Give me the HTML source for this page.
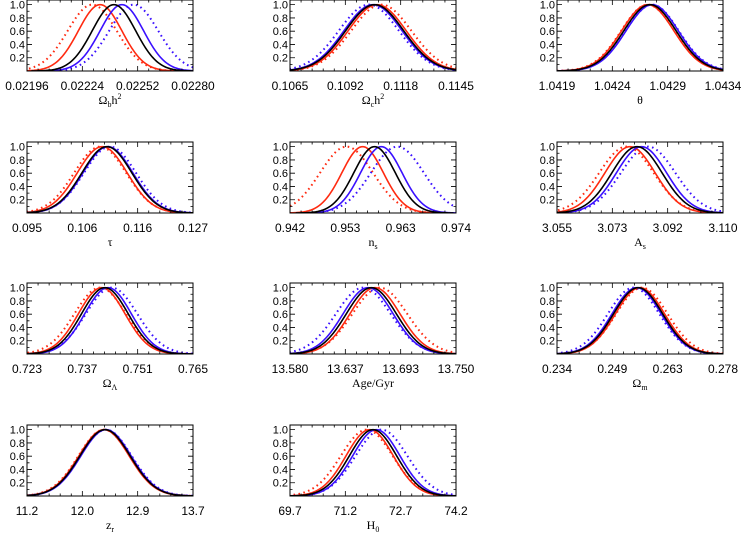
<!DOCTYPE html>
<html><head><meta charset="utf-8">
<style>
html,body{margin:0;padding:0;background:#fff;}
svg{display:block;font-family:"Liberation Sans",sans-serif;}
</style></head>
<body>
<svg id="chart" width="743" height="534" viewBox="0 0 743 534"></svg>
<script>
// ---- data ----
const panelTitles = ["Ωbh²","Ωch²","θ","τ","ns","As","ΩΛ","Age/Gyr","Ωm","zr","H0"];
const tickLabels = [
 ["0.02196","0.02224","0.02252","0.02280"],
 ["0.1065","0.1092","0.1118","0.1145"],
 ["1.0419","1.0424","1.0429","1.0434"],
 ["0.095","0.106","0.116","0.127"],
 ["0.942","0.953","0.963","0.974"],
 ["3.055","3.073","3.092","3.110"],
 ["0.723","0.737","0.751","0.765"],
 ["13.580","13.637","13.693","13.750"],
 ["0.234","0.249","0.263","0.278"],
 ["11.2","12.0","12.9","13.7"],
 ["69.7","71.2","72.7","74.2"]
];
const xMin = [0.02196,0.1065,1.0419,0.095,0.942,3.055,0.723,13.580,0.234,11.2,69.7];
const xMax = [0.02280,0.1145,1.0434,0.127,0.974,3.110,0.765,13.750,0.278,13.7,74.2];
// means: redDotted, redSolid, black, blueSolid, blueDotted
const meanRedDot  = [0.02229,0.1109,1.04272,0.1091,0.9529,3.0780,0.7415,13.672,0.2565,12.36,71.78];
const meanRed     = [0.02233,0.1107,1.04272,0.1095,0.9560,3.0792,0.7419,13.667,0.2560,12.36,71.86];
const meanBlack   = [0.02240,0.11058,1.04274,0.1104,0.9583,3.0815,0.7427,13.6633,0.2555,12.375,71.95];
const meanBlue    = [0.02244,0.1105,1.04276,0.1106,0.9596,3.0830,0.7435,13.660,0.2551,12.39,72.04];
const meanBlueDot = [0.02250,0.1103,1.04276,0.1110,0.9627,3.0852,0.7444,13.655,0.2543,12.39,72.18];
const sigmaSolid  = [0.000110,0.0014,0.000236,0.0048,0.0040,0.0083,0.0059,0.0256,0.0065,0.377,0.64];
const sigmaDotted = [0.000124,0.00145,0.000240,0.0050,0.0051,0.0090,0.0065,0.0280,0.0068,0.385,0.70];
const yTicks = [0.2,0.4,0.6,0.8,1.0];
const yTickLabels = ["0.2","0.4","0.6","0.8","1.0"];

// ---- layout ----
const colX = [27,290,557], rowY = [0,142,283,425], W = 166, H = 71, YMAX = 1.07;
const NS = "http://www.w3.org/2000/svg";
const svg = document.getElementById('chart');
function mk(tag, attrs, parent){const e=document.createElementNS(NS,tag);for(const k in attrs)e.setAttribute(k,attrs[k]);(parent||svg).appendChild(e);return e;}

function titleHTML(g, i, cx, y){
  const t = mk('text',{x:cx,y:y,'text-anchor':'middle','font-size':'12','font-family':'"Liberation Serif",serif'},g);
  
  
  const parts = {
    0:[["Ω",0],["b",1],["h",0],["2",2]],1:[["Ω",0],["c",1],["h",0],["2",2]],2:[["θ",0]],3:[["τ",0]],
    4:[["n",0],["s",1]],5:[["A",0],["s",1]],6:[["Ω",0],["Λ",1]],7:[["Age/Gyr",0]],8:[["Ω",0],["m",1]],
    9:[["z",0],["r",1]],10:[["H",0],["0",1]]}[i];
  parts.forEach(p=>{const s=mk('tspan',{},t);s.textContent=p[0];
    if(p[1]===1){s.setAttribute('font-size','8');s.setAttribute('dy','3');}
    else if(p[1]===2){s.setAttribute('font-size','8');s.setAttribute('dy','-8');}
    else {s.setAttribute('dy', '0');}
  });
  // reset baselines
  let cum=0; [...t.childNodes].forEach((s,k)=>{const p=parts[k];let target=p[1]===1?3:(p[1]===2?-5:0);s.setAttribute('dy',target-cum);cum=target;});
}

for(let i=0;i<11;i++){
  const r=Math.floor(i/3), c=i%3, x0=colX[c], y0=rowY[r];
  const g=mk('g',{});
  
  
  const sx=v=>x0+(v-xMin[i])/(xMax[i]-xMin[i])*W;
  const sy=v=>y0+H-v/YMAX*H;
  mk('clipPath',{id:'cp'+i},g).appendChild((()=>{const e=document.createElementNS(NS,'rect');e.setAttribute('x',x0);e.setAttribute('y',y0);e.setAttribute('width',W);e.setAttribute('height',H);return e;})());
  const series=[[meanRedDot,sigmaDotted,'#ff2a10',true,'red-dotted'],[meanBlueDot,sigmaDotted,'#3a10ff',true,'blue-dotted'],
    [meanRed,sigmaSolid,'#ff2a10',false,'red-solid'],[meanBlue,sigmaSolid,'#3a10ff',false,'blue-solid'],[meanBlack,sigmaSolid,'#000',false,'black-solid']];
  series.forEach(s=>{
    const mu=s[0][i], sg=s[1][i]; let d='';
    for(let k=0;k<=120;k++){const v=mu-3.8*sg+k*7.6*sg/120;const y=Math.exp(-0.5*((v-mu)/sg)**2);d+=(k?'L':'M')+sx(v).toFixed(2)+','+sy(y).toFixed(2);}
    const p=mk('path',{d:d,fill:'none',stroke:s[2],'stroke-width':s[3]?'2':'1.6','clip-path':'url(#cp'+i+')'},g);
    if(s[3]){p.setAttribute('stroke-dasharray','1.6,3.4');}
    
    
  });
  const box=mk('rect',{x:x0,y:y0,width:W,height:H,fill:'none',stroke:'#000','stroke-width':'1'},g);
  
  
  // x ticks
  let tk='';
  for(let m=0;m<=15;m++){const xx=x0+m*W/15;const L=(m%5===0)?5:2.5;tk+=`M${xx},${y0+H}v${-L}M${xx},${y0}v${L}`;}
  for(let m=1;m<=10;m++){const yy=sy(m*0.1);const L=(m%2===0)?5:2.5;tk+=`M${x0},${yy}h${L}M${x0+W},${yy}h${-L}`;}
  mk('path',{d:tk,stroke:'#000','stroke-width':'0.8',fill:'none'},g);
  tickLabels[i].forEach((lab,k)=>{
    const v=xMin[i]+k*(xMax[i]-xMin[i])/3;
    const t=mk('text',{x:sx(v),y:y0+H+19,'text-anchor':'middle','font-size':'12'},g);
    t.textContent=lab;
    
    
  });
  yTicks.forEach((v,k)=>{
    const t=mk('text',{x:x0-2,y:sy(v)+4,'text-anchor':'end','font-size':'11'},g);
    t.textContent=yTickLabels[k];
    
    
  });
  titleHTML(g,i,x0+W/2,y0+H+33);
}
</script>
</body></html>
